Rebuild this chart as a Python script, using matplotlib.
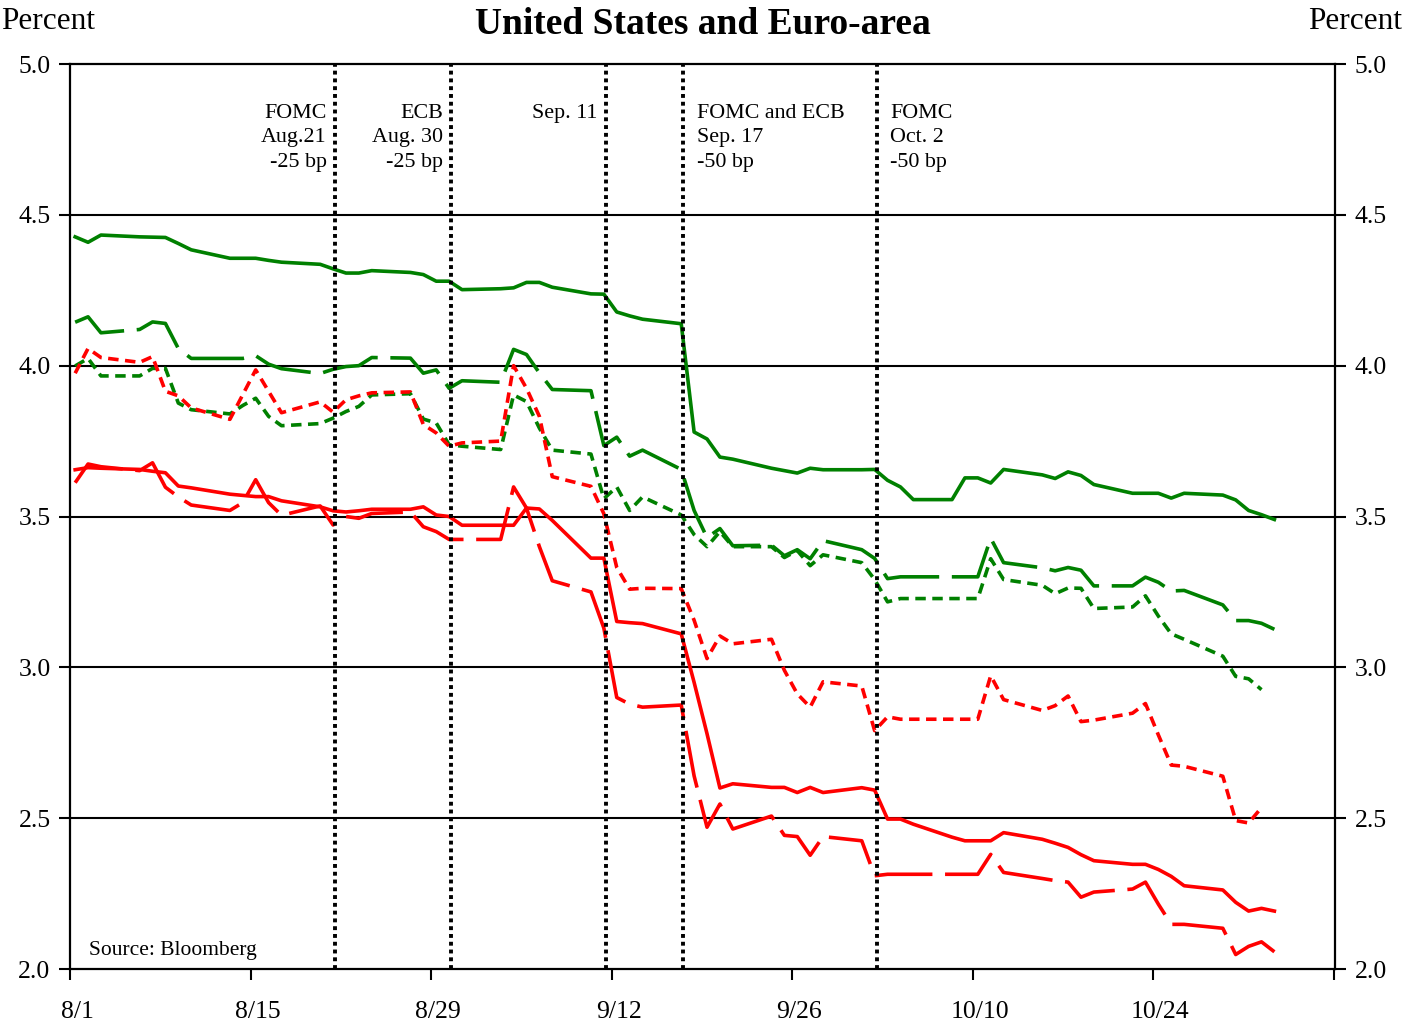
import numpy as np
import pandas as pd
import matplotlib
matplotlib.use("Agg")
import matplotlib.pyplot as plt
import matplotlib.transforms as mtrans

plt.rcParams['font.family'] = ['Liberation Serif', 'DejaVu Serif']

# ---------------- data ----------------
dates = ["2001-08-01", "2001-08-02", "2001-08-03", "2001-08-06", "2001-08-07", "2001-08-08",
         "2001-08-09", "2001-08-10", "2001-08-13", "2001-08-14", "2001-08-15", "2001-08-16",
         "2001-08-17", "2001-08-20", "2001-08-21", "2001-08-22", "2001-08-23", "2001-08-24",
         "2001-08-27", "2001-08-28", "2001-08-29", "2001-08-30", "2001-08-31", "2001-09-03",
         "2001-09-04", "2001-09-05", "2001-09-06", "2001-09-07", "2001-09-10", "2001-09-11",
         "2001-09-12", "2001-09-13", "2001-09-14", "2001-09-17", "2001-09-18", "2001-09-19",
         "2001-09-20", "2001-09-21", "2001-09-24", "2001-09-25", "2001-09-26", "2001-09-27",
         "2001-09-28", "2001-10-01", "2001-10-02", "2001-10-03", "2001-10-04", "2001-10-05",
         "2001-10-08", "2001-10-09", "2001-10-10", "2001-10-11", "2001-10-12", "2001-10-15",
         "2001-10-16", "2001-10-17", "2001-10-18", "2001-10-19", "2001-10-22", "2001-10-23",
         "2001-10-24", "2001-10-25", "2001-10-26", "2001-10-29", "2001-10-30", "2001-10-31",
         "2001-11-01", "2001-11-02"]

green_solid = [4.427, 4.409, 4.433, 4.427, 4.426, 4.425, 4.405, 4.384, 4.356, 4.356, 4.356, 4.349,
               4.343, 4.336, 4.321, 4.307, 4.307, 4.315, 4.309, 4.302, 4.280, 4.280, 4.252, 4.255,
               4.258, 4.276, 4.276, 4.260, 4.238, 4.237, 4.178, 4.165, 4.154, 4.139, 3.780, 3.757,
               3.697, 3.690, 3.660, 3.652, 3.644, 3.660, 3.655, 3.655, 3.656, 3.620, 3.598, 3.556,
               3.556, 3.628, 3.628, 3.611, 3.656, 3.638, 3.626, 3.648, 3.636, 3.606, 3.577, 3.577,
               3.577, 3.561, 3.577, 3.571, 3.555, 3.520, 3.506, 3.490]

green_long = [4.144, 4.162, 4.109, 4.120, 4.145, 4.140, 4.057, 4.024, 4.024, 4.024, 4.033, 4.005,
              3.990, 3.974, 3.988, 3.997, 4.000, 4.027, 4.025, 3.975, 3.986, 3.925, 3.950, 3.945,
              4.054, 4.037, 3.976, 3.921, 3.917, 3.735, 3.763, 3.700, 3.720, 3.656, 3.520, 3.430,
              3.460, 3.403, 3.405, 3.370, 3.390, 3.360, 3.420, 3.390, 3.361, 3.294, 3.300, 3.300,
              3.300, 3.300, 3.300, 3.428, 3.347, 3.330, 3.320, 3.331, 3.322, 3.270, 3.270, 3.299,
              3.282, 3.253, 3.255, 3.207, 3.155, 3.155, 3.146, 3.126]

green_short = [3.999, 4.024, 3.966, 3.966, 3.991, 3.991, 3.876, 3.854, 3.840, 3.868, 3.892, 3.832,
               3.801, 3.808, 3.826, 3.848, 3.865, 3.903, 3.907, 3.823, 3.810, 3.738, 3.733, 3.722,
               3.903, 3.881, 3.793, 3.720, 3.707, 3.559, 3.598, 3.520, 3.565, 3.505, 3.440, 3.400,
               3.450, 3.400, 3.400, 3.364, 3.387, 3.337, 3.373, 3.347, 3.291, 3.217, 3.228, 3.228,
               3.228, 3.228, 3.228, 3.360, 3.291, 3.272, 3.244, 3.263, 3.262, 3.195, 3.200, 3.237,
               3.170, 3.111, 3.093, 3.037, 2.970, 2.962, 2.926, np.nan]

red_solid = [3.655, 3.662, 3.660, 3.656, 3.650, 3.645, 3.601, 3.595, 3.574, 3.570, 3.566, 3.566,
             3.552, 3.532, 3.519, 3.515, 3.519, 3.524, 3.524, 3.532, 3.505, 3.500, 3.471, 3.471,
             3.471, 3.528, 3.525, 3.487, 3.362, 3.362, 3.152, 3.148, 3.145, 3.111, 2.950, 2.780,
             2.600, 2.614, 2.602, 2.602, 2.585, 2.602, 2.585, 2.601, 2.593, 2.497, 2.497, 2.480,
             2.437, 2.425, 2.425, 2.425, 2.452, 2.430, 2.417, 2.403, 2.379, 2.359, 2.347, 2.347,
             2.330, 2.307, 2.276, 2.262, 2.221, 2.192, 2.201, 2.192]

red_long = [3.612, 3.674, 3.665, 3.652, 3.678, 3.597, 3.565, 3.538, 3.520, 3.546, 3.622, 3.546,
            3.504, 3.535, 3.472, 3.500, 3.494, 3.510, 3.515, 3.466, 3.450, 3.424, 3.424, 3.424,
            3.598, 3.528, 3.400, 3.287, 3.250, 3.130, 2.900, 2.878, 2.868, 2.875, 2.640, 2.470,
            2.547, 2.464, 2.507, 2.443, 2.439, 2.377, 2.439, 2.425, 2.309, 2.314, 2.314, 2.314,
            2.314, 2.314, 2.314, 2.380, 2.320, 2.300, 2.293, 2.288, 2.238, 2.255, 2.265, 2.288,
            2.215, 2.148, 2.148, 2.135, 2.048, 2.075, 2.090, 2.057]

red_short = [3.975, 4.057, 4.027, 4.011, 4.030, 3.915, 3.900, 3.860, 3.822, 3.904, 3.986, 3.915,
             3.844, 3.880, 3.846, 3.887, 3.900, 3.910, 3.913, 3.805, 3.777, 3.733, 3.744, 3.750,
             4.000, 3.925, 3.832, 3.632, 3.600, 3.509, 3.331, 3.259, 3.262, 3.261, 3.156, 3.029,
             3.104, 3.078, 3.093, 2.990, 2.912, 2.868, 2.952, 2.938, 2.790, 2.836, 2.828, 2.828,
             2.828, 2.828, 2.828, 2.972, 2.893, 2.857, 2.873, 2.905, 2.820, 2.825, 2.848, 2.880,
             2.776, 2.676, 2.672, 2.639, 2.492, 2.484, 2.535, np.nan]

event_dates = ["2001-08-21", "2001-08-30", "2001-09-11", "2001-09-17", "2001-10-02"]
event_labels = ["FOMC\nAug.21\n-25 bp", "ECB\nAug. 30\n-25 bp", "Sep. 11",
                "FOMC and ECB\nSep. 17\n-50 bp", "FOMC\nOct. 2\n-50 bp"]
event_side = ["left", "left", "left", "right", "right"]

xtick_labels = ["8/1", "8/15", "8/29", "9/12", "9/26", "10/10", "10/24", ""]
yticks = [2.0, 2.5, 3.0, 3.5, 4.0, 4.5, 5.0]

# ---------------- plotting ----------------
start = pd.Timestamp("2001-08-01")
x = np.array([(pd.Timestamp(d) - start).days for d in dates]) + 0.4
ex = np.array([(pd.Timestamp(d) - start).days for d in event_dates]) + 0.57

fig = plt.figure(figsize=(14.03, 10.26), dpi=100)
ax = fig.add_axes([70 / 1403, 1 - 969 / 1026, (1335 - 70) / 1403, (969 - 64) / 1026])

GREEN = "#008000"
RED = "#ff0000"
LW = 2.6
long_dash = (0, (16, 3.5))
short_dash = (0, (2.9, 1.8))

ax.plot(x, green_solid, color=GREEN, lw=LW, zorder=3)
ax.plot(x, green_long, color=GREEN, lw=LW, ls=long_dash, zorder=3)
ax.plot(x, green_short, color=GREEN, lw=LW, ls=short_dash, zorder=3)
ax.plot(x, red_solid, color=RED, lw=LW, zorder=3)
ax.plot(x, red_long, color=RED, lw=LW, ls=long_dash, zorder=3)
ax.plot(x, red_short, color=RED, lw=LW, ls=short_dash, zorder=3)

for xe in ex:
    ax.axvline(xe, color="black", lw=2.8, ls=(0, (1, 1)), zorder=4)

for yv in yticks[1:-1]:
    ax.axhline(yv, color="black", lw=1.5, zorder=1)

for xe, lab, side in zip(ex, event_labels, event_side):
    if side == "left":
        ax.text(xe - 0.65, 4.868, lab, ha="right", va="top", fontsize=15.8,
                linespacing=1.4, zorder=5)
    else:
        ax.text(xe + 1.05, 4.868, lab, ha="left", va="top", fontsize=15.8,
                linespacing=1.4, zorder=5)

ax.text(1.5, 2.062, "Source: Bloomberg", ha="left", va="center", fontsize=15.5)

ax.set_xlim(0, 98.1)
ax.set_ylim(2.0, 5.0)
ax.set_xticks(np.arange(0, 99, 14))
ax.set_xticklabels(xtick_labels)
ax.set_yticks(yticks)
ax.set_yticklabels([f"{v:.1f}" for v in yticks])
ax.tick_params(axis="y", direction="out", length=8, width=1.5, labelsize=18.5,
               left=True, right=True, labelleft=True, labelright=True, pad=6)
ax.tick_params(axis="x", direction="out", length=8, width=1.5, labelsize=18.5, pad=15)
offset = mtrans.ScaledTranslation(7 / 100, 0, fig.dpi_scale_trans)
for lbl in ax.get_xticklabels():
    lbl.set_transform(lbl.get_transform() + offset)

for sp in ax.spines.values():
    sp.set_linewidth(1.6)
    sp.set_color("black")

fig.text(703 / 1403, 1 - 25 / 1026, "United States and Euro-area", ha="center", va="center",
         fontsize=27, fontweight="bold")
fig.text(1 / 1403, 1 - 22 / 1026, "Percent", ha="left", va="center", fontsize=22.5)
fig.text(1402 / 1403, 1 - 22 / 1026, "Percent", ha="right", va="center", fontsize=22.5)

fig.savefig("out.png", dpi=100)
